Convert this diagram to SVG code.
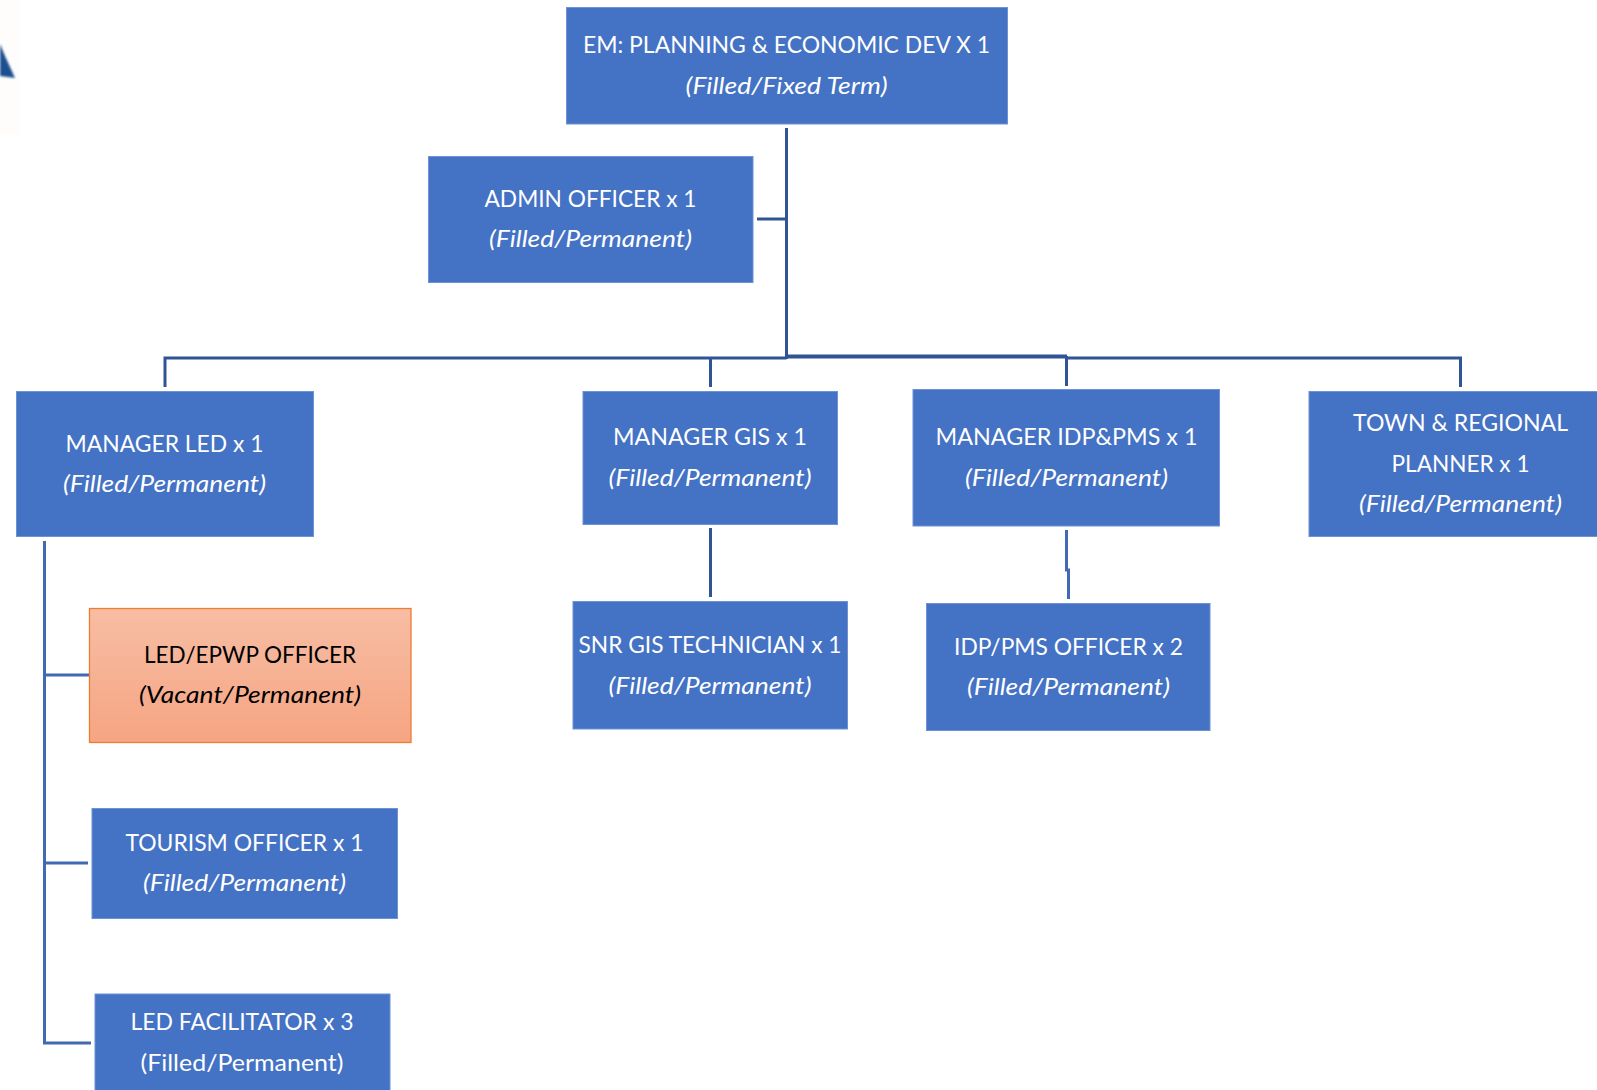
<svg xmlns="http://www.w3.org/2000/svg" width="1597" height="1090" viewBox="0 0 1597 1090">
<style>
.b{fill:#4472c4;stroke:#6f92d4;stroke-width:1}
.t{font-family:Lato,"Liberation Sans",sans-serif;font-size:23.5px;fill:#fff;text-anchor:middle}
.i{font-style:italic}
.k{fill:#000}
.c{fill:none;stroke:#2f5597;stroke-width:3}
.c2{fill:none;stroke:#4169b4;stroke-width:3}
</style>
<defs>
<linearGradient id="o" x1="0" y1="0" x2="0" y2="1"><stop offset="0" stop-color="#f7bda4"/><stop offset="1" stop-color="#f6a582"/></linearGradient>
<filter id="s" x="-30%" y="-30%" width="160%" height="160%"><feGaussianBlur stdDeviation="1"/></filter>
</defs>
<g id="logo"><rect x="0" y="0" width="20" height="135" fill="#fffdfc"/><polygon points="0,44 5,56 15,78 0,76" fill="#1d4f8f" filter="url(#s)"/></g>
<g id="connectors">
<path class="c" d="M786.500 128V359"/>
<path class="c" d="M757 219H786.500"/>
<path class="c" d="M165 387V358H786.500"/>
<path class="c" d="M710.500 387V358"/>
<path class="c" style="stroke-width:4" d="M786.500 356.500H1067"/>
<path class="c" d="M1066.500 356V386"/>
<path class="c" d="M1066.500 358H1460.500V387"/>
<path class="c" d="M710.500 528V597"/>
<path class="c2" d="M1066.500 530V570H1068.500V599"/>
<path class="c2" d="M44.500 541V1043H91"/>
<path class="c2" d="M44.500 675H89"/>
<path class="c2" d="M44.500 863H88"/>
</g>
<g id="n1"><rect class="b" x="566.500" y="7.500" width="441" height="116.500"/><text class="t" x="786.500" y="53" textLength="407" lengthAdjust="spacingAndGlyphs">EM: PLANNING &amp; ECONOMIC DEV X 1</text><text class="t i" x="786.500" y="94" textLength="202" lengthAdjust="spacingAndGlyphs">(Filled/Fixed Term)</text></g>
<g id="n2"><rect class="b" x="428.500" y="156.500" width="324.500" height="126"/><text class="t" x="590.500" y="207" textLength="212" lengthAdjust="spacingAndGlyphs">ADMIN OFFICER x 1</text><text class="t i" x="590.500" y="247" textLength="203" lengthAdjust="spacingAndGlyphs">(Filled/Permanent)</text></g>
<g id="n3"><rect class="b" x="16.500" y="391.500" width="297" height="145"/><text class="t" x="164.500" y="452" textLength="198" lengthAdjust="spacingAndGlyphs">MANAGER LED x 1</text><text class="t i" x="164.500" y="492" textLength="203" lengthAdjust="spacingAndGlyphs">(Filled/Permanent)</text></g>
<g id="n4"><rect class="b" x="583" y="391.500" width="254.500" height="133"/><text class="t" x="710" y="445" textLength="194" lengthAdjust="spacingAndGlyphs">MANAGER GIS x 1</text><text class="t i" x="710" y="486" textLength="203" lengthAdjust="spacingAndGlyphs">(Filled/Permanent)</text></g>
<g id="n5"><rect class="b" x="913" y="389.500" width="306.500" height="136.500"/><text class="t" x="1066.500" y="445" textLength="262" lengthAdjust="spacingAndGlyphs">MANAGER IDP&amp;PMS x 1</text><text class="t i" x="1066.500" y="486" textLength="203" lengthAdjust="spacingAndGlyphs">(Filled/Permanent)</text></g>
<g id="n6"><rect class="b" x="1309" y="391.500" width="289" height="145"/><text class="t" x="1460.500" y="431" textLength="215" lengthAdjust="spacingAndGlyphs">TOWN &amp; REGIONAL</text><text class="t" x="1460.500" y="472" textLength="138" lengthAdjust="spacingAndGlyphs">PLANNER x 1</text><text class="t i" x="1460.500" y="512" textLength="203" lengthAdjust="spacingAndGlyphs">(Filled/Permanent)</text></g>
<g id="n7"><rect class="b" x="573" y="601.500" width="274.500" height="127.500"/><text class="t" x="710" y="653" textLength="263" lengthAdjust="spacingAndGlyphs">SNR GIS TECHNICIAN x 1</text><text class="t i" x="710" y="694" textLength="203" lengthAdjust="spacingAndGlyphs">(Filled/Permanent)</text></g>
<g id="n8"><rect class="b" x="926.500" y="603.500" width="283.500" height="127"/><text class="t" x="1068.500" y="655" textLength="229" lengthAdjust="spacingAndGlyphs">IDP/PMS OFFICER x 2</text><text class="t i" x="1068.500" y="695" textLength="203" lengthAdjust="spacingAndGlyphs">(Filled/Permanent)</text></g>
<g id="n9"><rect x="89.500" y="608.500" width="321.500" height="134" fill="url(#o)" stroke="#ed7d31" stroke-width="1.300"/><text class="t k" x="250" y="663" textLength="212" lengthAdjust="spacingAndGlyphs">LED/EPWP OFFICER</text><text class="t i k" x="250" y="703" textLength="222" lengthAdjust="spacingAndGlyphs">(Vacant/Permanent)</text></g>
<g id="n10"><rect class="b" x="92" y="808.500" width="305.500" height="110"/><text class="t" x="244.500" y="851" textLength="238" lengthAdjust="spacingAndGlyphs">TOURISM OFFICER x 1</text><text class="t i" x="244.500" y="891" textLength="203" lengthAdjust="spacingAndGlyphs">(Filled/Permanent)</text></g>
<g id="n11"><rect class="b" x="95" y="994" width="295" height="100"/><text class="t" x="242" y="1030" textLength="223" lengthAdjust="spacingAndGlyphs">LED FACILITATOR x 3</text><text class="t" x="242" y="1071" textLength="203" lengthAdjust="spacingAndGlyphs">(Filled/Permanent)</text></g>
</svg>
